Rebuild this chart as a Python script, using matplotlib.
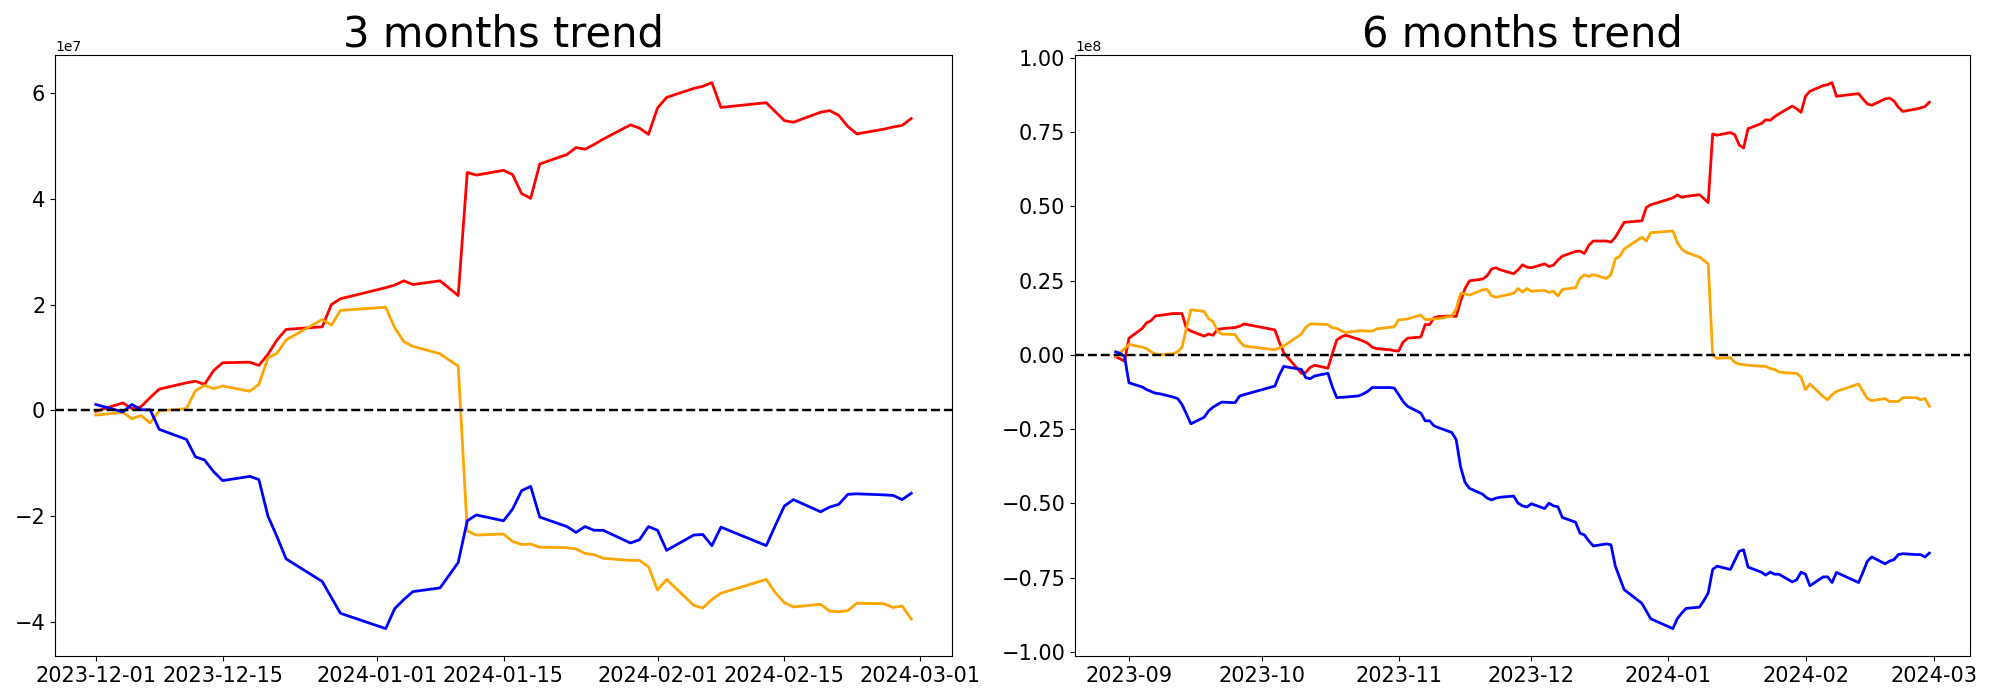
import matplotlib
matplotlib.use("Agg")
import matplotlib.pyplot as plt
import pandas as pd
import numpy as np

# Korean market trading days (weekends and exchange holidays removed)
KRX_HOLIDAYS = [
    "2023-09-28", "2023-09-29", "2023-10-02", "2023-10-03", "2023-10-09",
    "2023-12-25", "2023-12-29", "2024-01-01", "2024-02-09", "2024-02-12",
]
dates_3m = pd.bdate_range("2023-12-01", "2024-02-29", freq="C", holidays=KRX_HOLIDAYS)
dates_6m = pd.bdate_range("2023-08-29", "2024-02-29", freq="C", holidays=KRX_HOLIDAYS)

# 3 months trend, units of 1e7 (one row per week)
red_3m = [
    -0.02,
    0.14, 0.03, 0.07, 0.24, 0.40,
    0.52, 0.55, 0.49, 0.75, 0.90,
    0.91, 0.85, 1.06, 1.33, 1.53,
    1.58, 2.00, 2.11,
    2.32, 2.37, 2.45, 2.38,
    2.45, 2.31, 2.17, 4.50, 4.45,
    4.54, 4.46, 4.10, 4.01, 4.66,
    4.84, 4.97, 4.94, 5.03, 5.13,
    5.40, 5.34, 5.22, 5.72, 5.92,
    6.09, 6.13, 6.20, 5.73,
    5.82, 5.65, 5.48, 5.45,
    5.64, 5.67, 5.58, 5.37, 5.23,
    5.32, 5.36, 5.39, 5.52,
]
orange_3m = [
    -0.09,
    -0.04, -0.16, -0.10, -0.24, -0.01,
    0.03, 0.37, 0.47, 0.41, 0.46,
    0.36, 0.49, 0.99, 1.08, 1.33,
    1.72, 1.61, 1.89,
    1.95, 1.56, 1.30, 1.21,
    1.07, 0.95, 0.84, -2.28, -2.36,
    -2.34, -2.48, -2.54, -2.53, -2.59,
    -2.60, -2.62, -2.71, -2.73, -2.80,
    -2.84, -2.84, -2.96, -3.40, -3.20,
    -3.69, -3.74, -3.58, -3.46,
    -3.20, -3.45, -3.64, -3.72,
    -3.67, -3.80, -3.81, -3.79, -3.65,
    -3.66, -3.73, -3.70, -3.95,
]
blue_3m = [
    0.11,
    -0.03, 0.11, 0.01, 0.01, -0.36,
    -0.55, -0.88, -0.94, -1.16, -1.33,
    -1.25, -1.31, -2.00, -2.39, -2.81,
    -3.24, -3.54, -3.84,
    -4.13, -3.75, -3.58, -3.43,
    -3.36, -3.12, -2.88, -2.09, -1.98,
    -2.09, -1.87, -1.52, -1.44, -2.02,
    -2.20, -2.31, -2.20, -2.27, -2.27,
    -2.51, -2.45, -2.20, -2.27, -2.65,
    -2.36, -2.35, -2.56, -2.21,
    -2.56, -2.18, -1.81, -1.69,
    -1.92, -1.83, -1.78, -1.59, -1.58,
    -1.60, -1.61, -1.69, -1.57,
]

# 6 months trend, units of 1e8 (one row per week)
red_6m = [
    -0.007, -0.013, -0.022, 0.056,
    0.089, 0.108, 0.115, 0.131, 0.133,
    0.139, 0.139, 0.139, 0.089, 0.080,
    0.063, 0.070, 0.066, 0.085, 0.088,
    0.092, 0.096, 0.104,
    0.084, 0.043, 0.007,
    -0.062, -0.059, -0.042, -0.035,
    -0.045, 0.004, 0.050, 0.060, 0.066,
    0.052, 0.046, 0.039, 0.026, 0.021,
    0.017, 0.014, 0.013, 0.043, 0.056,
    0.060, 0.102, 0.102, 0.125, 0.129,
    0.131, 0.129, 0.181, 0.223, 0.249,
    0.255, 0.266, 0.289, 0.293, 0.286,
    0.273, 0.286, 0.303, 0.295, 0.293,
    0.306, 0.297, 0.302, 0.319, 0.332,
    0.348, 0.349, 0.341, 0.369, 0.383,
    0.383, 0.379, 0.396, 0.421, 0.446,
    0.451, 0.496, 0.505,
    0.528, 0.538, 0.530, 0.533,
    0.539, 0.526, 0.512, 0.743, 0.739,
    0.748, 0.741, 0.706, 0.696, 0.761,
    0.778, 0.791, 0.789, 0.801, 0.811,
    0.837, 0.828, 0.816, 0.870, 0.887,
    0.906, 0.909, 0.916, 0.870,
    0.879, 0.861, 0.844, 0.840,
    0.861, 0.864, 0.854, 0.833, 0.819,
    0.827, 0.831, 0.835, 0.850,
]
orange_6m = [
    -0.005, 0.008, 0.021, 0.035,
    0.026, 0.021, 0.010, 0.003, 0.000,
    0.004, 0.010, 0.026, 0.089, 0.152,
    0.146, 0.122, 0.112, 0.081, 0.070,
    0.068, 0.046, 0.030,
    0.017, 0.024, 0.030,
    0.070, 0.093, 0.104, 0.104,
    0.102, 0.091, 0.089, 0.081, 0.075,
    0.081, 0.081, 0.080, 0.080, 0.087,
    0.093, 0.094, 0.118, 0.119, 0.121,
    0.134, 0.119, 0.119, 0.121, 0.122,
    0.130, 0.155, 0.207, 0.205, 0.201,
    0.219, 0.220, 0.199, 0.194, 0.197,
    0.207, 0.223, 0.211, 0.223, 0.214,
    0.217, 0.210, 0.214, 0.198, 0.220,
    0.226, 0.257, 0.269, 0.264, 0.270,
    0.257, 0.270, 0.323, 0.332, 0.356,
    0.396, 0.383, 0.411,
    0.417, 0.378, 0.356, 0.345,
    0.329, 0.318, 0.306, 0.000, -0.012,
    -0.009, -0.025, -0.031, -0.033, -0.035,
    -0.038, -0.038, -0.046, -0.049, -0.058,
    -0.062, -0.062, -0.075, -0.117, -0.098,
    -0.140, -0.151, -0.134, -0.123,
    -0.098, -0.123, -0.147, -0.154,
    -0.147, -0.157, -0.157, -0.157, -0.144,
    -0.144, -0.151, -0.147, -0.173,
]
blue_6m = [
    0.010, 0.005, -0.005, -0.094,
    -0.108, -0.117, -0.123, -0.129, -0.131,
    -0.142, -0.147, -0.167, -0.199, -0.232,
    -0.210, -0.189, -0.176, -0.167, -0.159,
    -0.161, -0.139, -0.134,
    -0.105, -0.068, -0.039,
    -0.049, -0.077, -0.080, -0.071,
    -0.062, -0.108, -0.144, -0.143, -0.142,
    -0.138, -0.131, -0.123, -0.110, -0.110,
    -0.110, -0.112, -0.134, -0.157, -0.173,
    -0.196, -0.222, -0.222, -0.239, -0.245,
    -0.261, -0.285, -0.377, -0.429, -0.449,
    -0.469, -0.482, -0.488, -0.482, -0.479,
    -0.475, -0.499, -0.508, -0.512, -0.501,
    -0.517, -0.499, -0.508, -0.511, -0.547,
    -0.563, -0.600, -0.606, -0.626, -0.643,
    -0.636, -0.639, -0.711, -0.751, -0.790,
    -0.836, -0.862, -0.888,
    -0.921, -0.888, -0.869, -0.853,
    -0.849, -0.827, -0.801, -0.722, -0.711,
    -0.722, -0.692, -0.661, -0.656, -0.714,
    -0.731, -0.741, -0.731, -0.738, -0.738,
    -0.764, -0.757, -0.731, -0.738, -0.777,
    -0.747, -0.747, -0.766, -0.732,
    -0.766, -0.731, -0.694, -0.680,
    -0.703, -0.694, -0.689, -0.672, -0.669,
    -0.672, -0.672, -0.680, -0.667,
]


def plot_trend(ax, dates, series, scale, title):
    for vals, color in series:
        ax.plot(dates, np.array(vals) * scale, color=color, linewidth=2)
    ax.axhline(0, color="black", linestyle="--", linewidth=1.75)
    ax.set_title(title, fontsize=30)
    ax.tick_params(axis="both", labelsize=15)


fig = plt.figure(figsize=(20, 7), dpi=100)
ax1 = fig.add_axes([0.0275, 0.063, 0.4485, 0.858])
ax2 = fig.add_axes([0.5375, 0.063, 0.4475, 0.858])

plot_trend(ax1, dates_3m, [(red_3m, "red"), (orange_3m, "orange"), (blue_3m, "blue")],
           1e7, "3 months trend")
plot_trend(ax2, dates_6m, [(red_6m, "red"), (orange_6m, "orange"), (blue_6m, "blue")],
           1e8, "6 months trend")

fig.savefig("out.png", dpi=100)
